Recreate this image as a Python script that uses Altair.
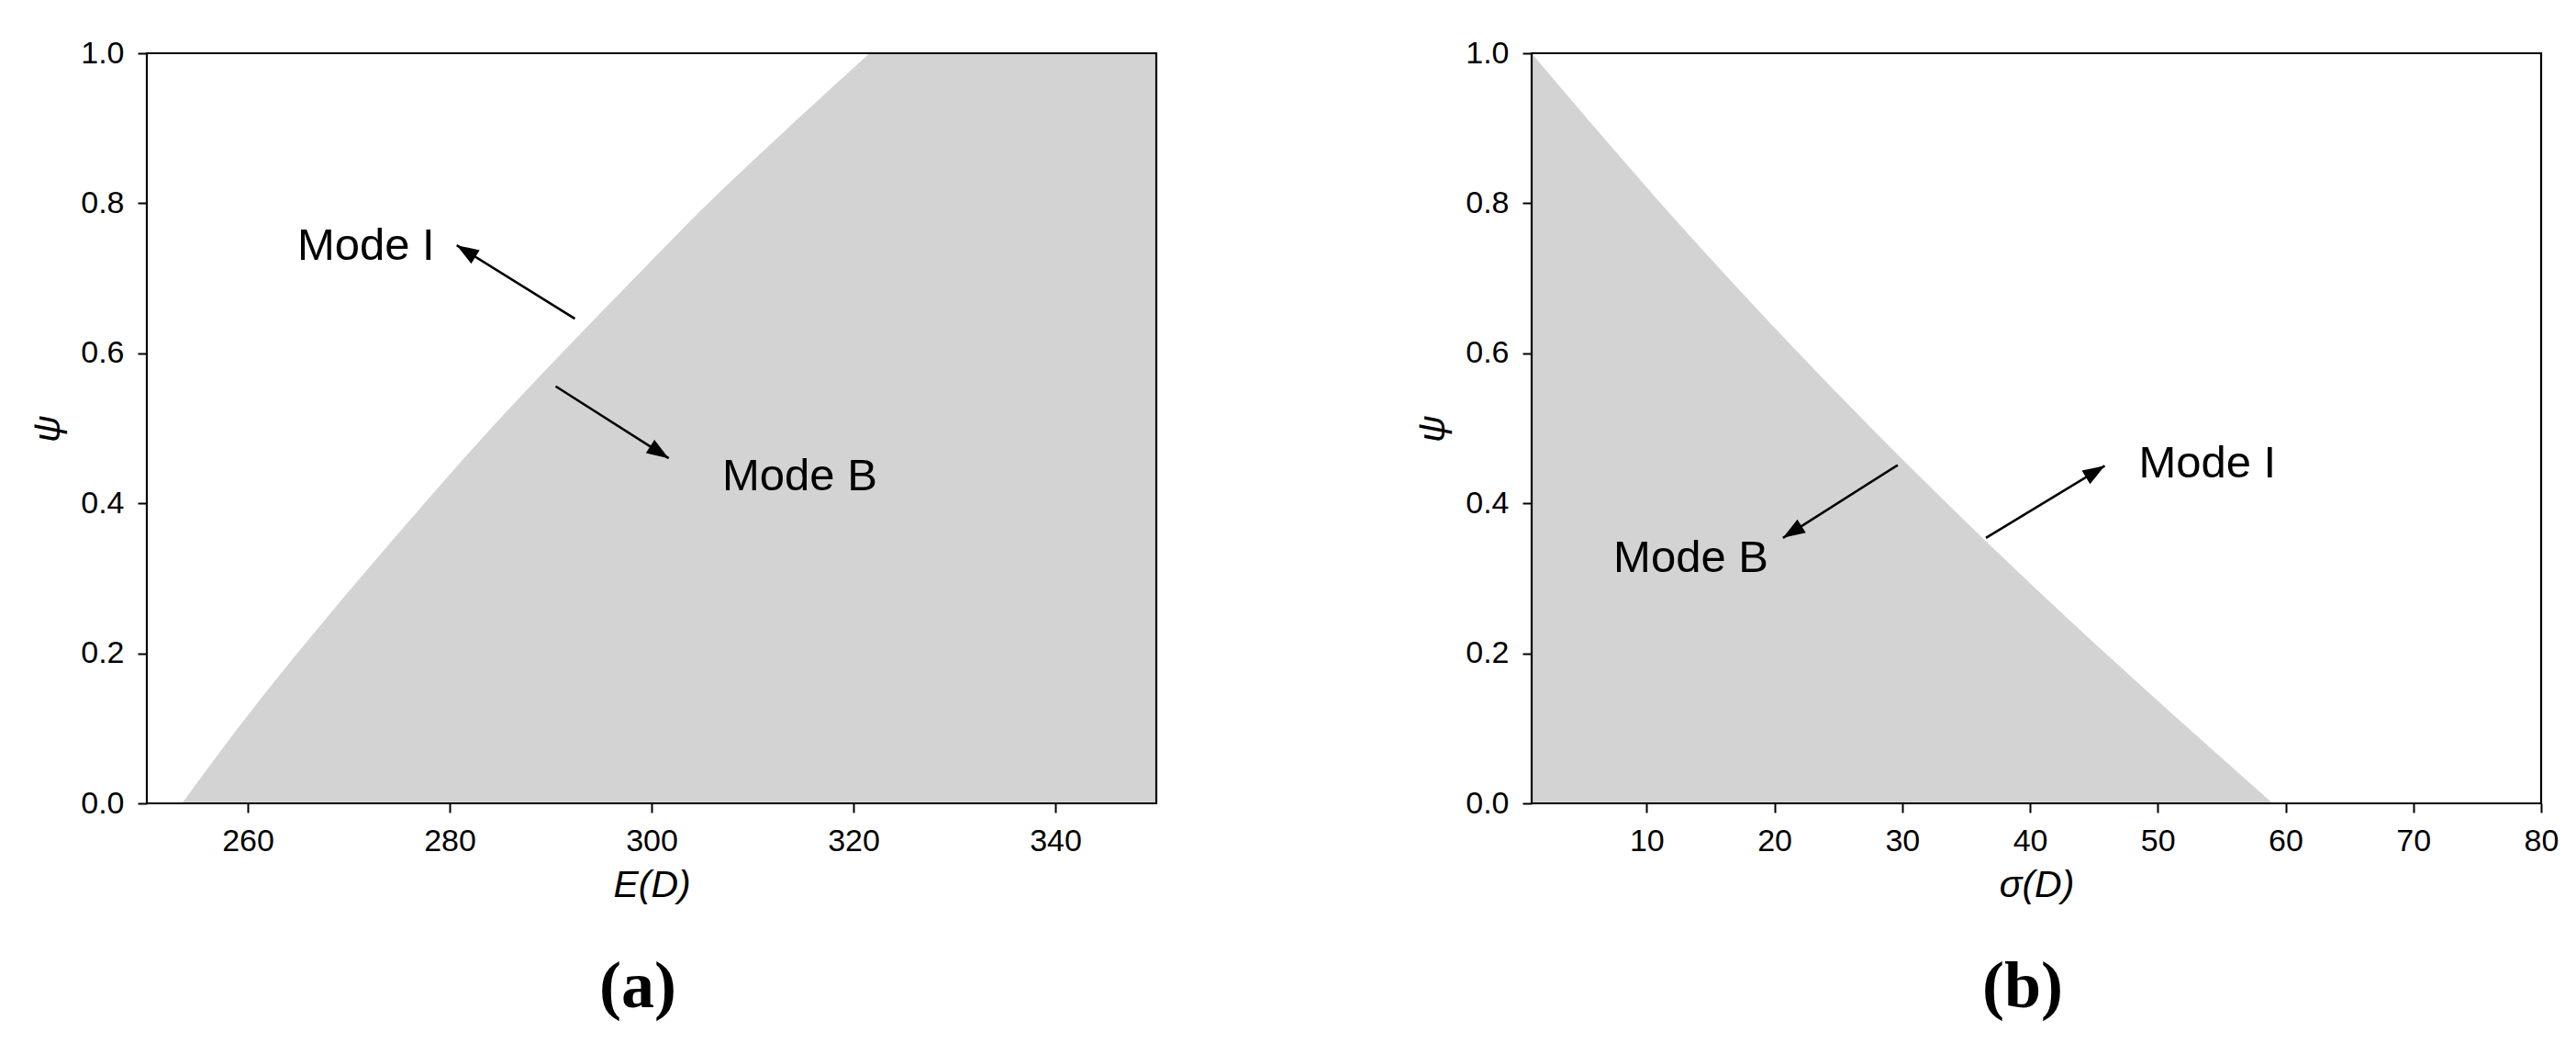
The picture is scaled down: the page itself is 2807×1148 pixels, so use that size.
import math
import altair as alt
import pandas as pd

# ---------------- data ----------------
psi = [0.0, 0.1, 0.2, 0.3, 0.4, 0.5, 0.6, 0.7, 0.8, 0.9, 1.0]
e_boundary = [253.5, 259.0, 264.9, 271.1, 277.5, 284.1, 291.1, 298.3, 305.6, 313.5, 321.6]
sigma_boundary = [59.0, 52.4, 45.9, 39.6, 33.5, 27.6, 21.9, 16.4, 11.1, 6.0, 1.0]

E_DOMAIN = [250, 350]
S_DOMAIN = [1, 80]
PSI_DOMAIN = [0, 1]

e_ticks = [260, 280, 300, 320, 340]
s_ticks = [10, 20, 30, 40, 50, 60, 70, 80]
psi_ticks = [0.0, 0.2, 0.4, 0.6, 0.8, 1.0]

# annotations, panel (a)
a_labels = ["Mode I", "Mode B"]
a_label_x = [264.9, 307.0]
a_label_y = [0.724, 0.417]
a_arrow_x0 = [292.4, 290.5]
a_arrow_y0 = [0.646, 0.556]
a_arrow_x1 = [280.7, 301.7]
a_arrow_y1 = [0.744, 0.460]

# annotations, panel (b)
b_labels = ["Mode B", "Mode I"]
b_label_x = [7.4, 48.5]
b_label_y = [0.308, 0.435]
b_arrow_x0 = [29.65, 36.55]
b_arrow_y0 = [0.451, 0.354]
b_arrow_x1 = [20.67, 45.85]
b_arrow_y1 = [0.354, 0.450]

W, H = 1100, 817
GREY = "#d3d3d3"
SANS = "Liberation Sans"
HEAD = "M0,0L0.36,1L-0.36,1Z"


def arrow_df(x0, y0, x1, y1, xdom):
    rows = []
    for a, b, c, d in zip(x0, y0, x1, y1):
        dx = (c - a) * W / (xdom[1] - xdom[0])
        dy = -(d - b) * H / (PSI_DOMAIN[1] - PSI_DOMAIN[0])
        ang = math.degrees(math.atan2(dx, -dy)) % 360
        rows.append({"xs": a, "ys": b, "xe": c, "ye": d, "ang": ang})
    return pd.DataFrame(rows)


def panel(bound, edge, xdom, xticks, xtitle, labels, lx, ly, arrows, caption):
    xs = alt.Scale(domain=xdom, nice=False, zero=False)
    ys = alt.Scale(domain=PSI_DOMAIN, nice=False, zero=False)
    xaxis = alt.Axis(values=xticks, format="d", title=xtitle)
    yaxis = alt.Axis(values=psi_ticks, format=".1f", title="ψ")

    area_df = pd.DataFrame({"psi": psi, "b": bound, "edge": [edge] * len(psi)})
    area = alt.Chart(area_df).mark_area(
        orient="horizontal", color=GREY, clip=True, interpolate="catmull-rom"
    ).encode(
        y=alt.Y("psi:Q", scale=ys, axis=yaxis),
        x=alt.X("b:Q", scale=xs, axis=xaxis),
        x2="edge",
    )
    rules = alt.Chart(arrows).mark_rule(color="black", strokeWidth=2.6).encode(
        x=alt.X("xs:Q", scale=xs, axis=xaxis),
        y=alt.Y("ys:Q", scale=ys, axis=yaxis),
        x2="xe",
        y2="ye",
    )
    heads = alt.Chart(arrows).mark_point(
        shape=HEAD, filled=True, color="black", opacity=1, size=2300, strokeWidth=0
    ).encode(
        x=alt.X("xe:Q", scale=xs, axis=xaxis),
        y=alt.Y("ye:Q", scale=ys, axis=yaxis),
        angle=alt.Angle("ang:Q", scale=None),
    )
    text_df = pd.DataFrame({"t": labels, "x": lx, "y": ly})
    texts = alt.Chart(text_df).mark_text(
        align="left", baseline="alphabetic", font=SANS, fontSize=49, color="black"
    ).encode(
        x=alt.X("x:Q", scale=xs, axis=xaxis),
        y=alt.Y("y:Q", scale=ys, axis=yaxis),
        text="t:N",
    )
    frame_df = pd.DataFrame({"x0": [xdom[0]], "x1": [xdom[1]],
                             "y0": [PSI_DOMAIN[0]], "y1": [PSI_DOMAIN[1]]})
    frame = alt.Chart(frame_df).mark_rect(
        filled=False, stroke="black", strokeWidth=2.2
    ).encode(
        x=alt.X("x0:Q", scale=xs, axis=xaxis),
        x2="x1",
        y=alt.Y("y0:Q", scale=ys, axis=yaxis),
        y2="y1",
    )
    return alt.layer(area, rules, heads, texts, frame).properties(
        width=W,
        height=H,
        title=alt.TitleParams(
            caption, orient="bottom", anchor="middle", font="Liberation Serif",
            fontSize=72, fontWeight="bold", color="black", offset=56, dx=-15,
        ),
    )


left = panel(e_boundary, E_DOMAIN[1], E_DOMAIN, e_ticks, "E(D)",
             a_labels, a_label_x, a_label_y,
             arrow_df(a_arrow_x0, a_arrow_y0, a_arrow_x1, a_arrow_y1, E_DOMAIN), "(a)")
right = panel(sigma_boundary, S_DOMAIN[0], S_DOMAIN, s_ticks, "σ(D)",
              b_labels, b_label_x, b_label_y,
              arrow_df(b_arrow_x0, b_arrow_y0, b_arrow_x1, b_arrow_y1, S_DOMAIN), "(b)")

chart = alt.hconcat(left, right, spacing=278).properties(
    padding={"left": 23, "top": 33, "right": 10, "bottom": 5},
    background="white",
).configure_view(
    stroke=None
).configure_axis(
    domain=False, grid=False,
    tickColor="black", tickWidth=2, tickSize=10,
    labelFont=SANS, labelFontSize=34, labelColor="black", labelFlush=False,
    labelOverlap=False,
    titleFont=SANS, titleFontSize=41, titleFontStyle="italic",
    titleFontWeight="normal", titleColor="black",
).configure_axisX(labelPadding=14, titlePadding=11).configure_axisY(
    labelPadding=15, titlePadding=14
)

chart.save("out.html", embed_options={"renderer": "svg", "actions": False})
